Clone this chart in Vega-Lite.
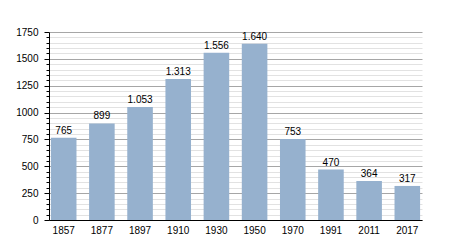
{
  "$schema": "https://vega.github.io/schema/vega-lite/v6.json",
  "width": 373,
  "height": 188,
  "autosize": "none",
  "padding": {"left": 49, "top": 32, "right": 28, "bottom": 30},
  "config": {
    "locale": {"number": {"decimal": ",", "thousands": ".", "grouping": [3], "currency": ["", " €"]}},
    "font": "Liberation Sans",
    "view": {"stroke": null},
    "axis": {"labelFont": "Liberation Sans", "labelFontSize": 10, "labelColor": "#000"}
  },
  "data": {
    "values": [
      {"year": "1857", "pop": 765},
      {"year": "1877", "pop": 899},
      {"year": "1897", "pop": 1053},
      {"year": "1910", "pop": 1313},
      {"year": "1930", "pop": 1556},
      {"year": "1950", "pop": 1640},
      {"year": "1970", "pop": 753},
      {"year": "1991", "pop": 470},
      {"year": "2011", "pop": 364},
      {"year": "2017", "pop": 317}
    ]
  },
  "encoding": {
    "x": {
      "field": "year", "type": "ordinal", "sort": null,
      "scale": {"paddingInner": 0.33, "paddingOuter": 0.05},
      "axis": {"title": null, "labelAngle": 0, "ticks": false, "labelPadding": 5, "domainColor": "#000", "domainWidth": 1, "grid": false}
    },
    "y": {
      "field": "pop", "type": "quantitative",
      "scale": {"domain": [0, 1750], "nice": false},
      "axis": {
        "title": null,
        "values": [0,50,100,150,200,250,300,350,400,450,500,550,600,650,700,750,800,850,900,950,1000,1050,1100,1150,1200,1250,1300,1350,1400,1450,1500,1550,1600,1650,1700,1750],
        "format": "d",
        "labelExpr": "datum.value % 250 === 0 ? datum.label : ''",
        "grid": true,
        "gridColor": {"condition": {"test": "datum.value % 250 === 0", "value": "#a6a6a6"}, "value": "#e2e2e2"},
        "gridWidth": 1,
        "domainColor": "#000",
        "tickColor": "#000",
        "tickSize": {"condition": {"test": "datum.value % 250 === 0", "value": 5}, "value": 3},
        "labelPadding": 6,
        "labelFlush": false,
        "labelOverlap": false
      }
    }
  },
  "layer": [
    {"mark": {"type": "bar", "color": "#96b1ce"}},
    {
      "mark": {"type": "text", "baseline": "alphabetic", "dy": -4, "fontSize": 10, "color": "#000", "font": "Liberation Sans"},
      "encoding": {"text": {"field": "pop", "type": "quantitative", "format": ","}}
    }
  ]
}
